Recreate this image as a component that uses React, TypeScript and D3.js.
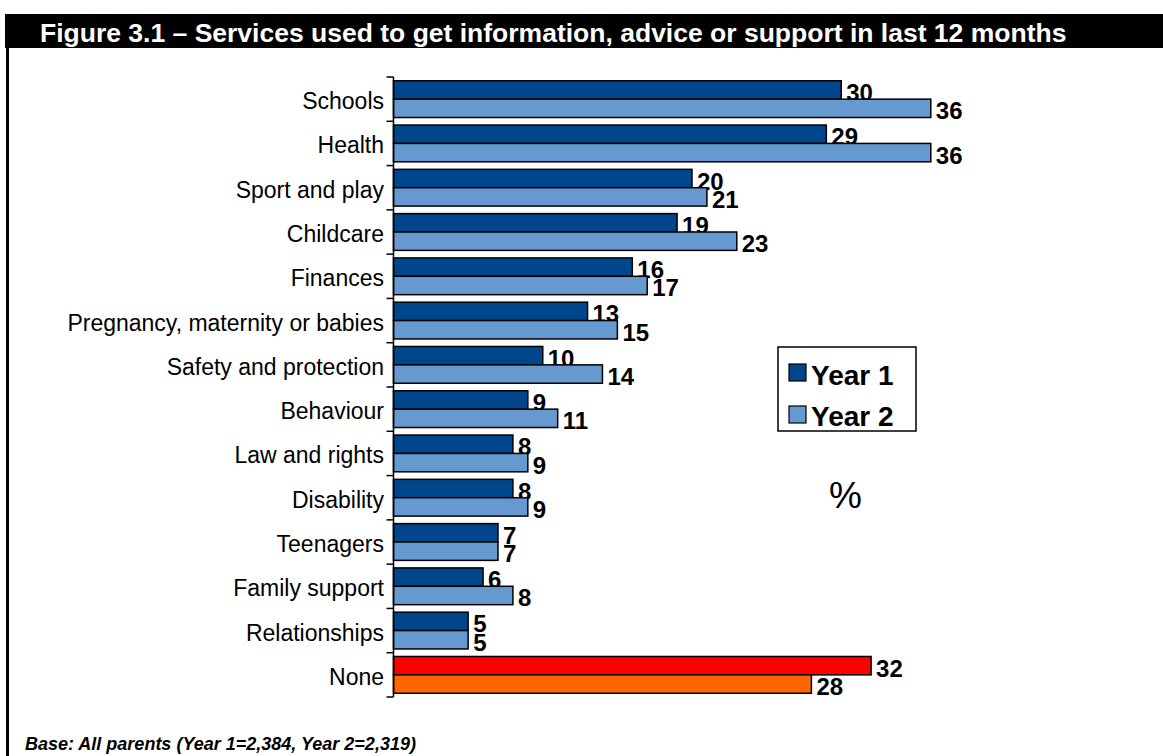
import React from "react";
import * as d3 from "d3";

const categories = [
  "Schools",
  "Health",
  "Sport and play",
  "Childcare",
  "Finances",
  "Pregnancy, maternity or babies",
  "Safety and protection",
  "Behaviour",
  "Law and rights",
  "Disability",
  "Teenagers",
  "Family support",
  "Relationships",
  "None",
];
const year1 = [30, 29, 20, 19, 16, 13, 10, 9, 8, 8, 7, 6, 5, 32];
const year2 = [36, 36, 21, 23, 17, 15, 14, 11, 9, 9, 7, 8, 5, 28];
const seriesNames = ["Year 1", "Year 2"];
const title = "Figure 3.1 \u2013 Services used to get information, advice or support in last 12 months";
const footnote = "Base: All parents (Year 1=2,384, Year 2=2,319)";

const W = 1163;
const H = 756;
const FONT = "Arial, 'Liberation Sans', Helvetica, sans-serif";

export default function App() {
  const x = d3.scaleLinear().domain([0, 40]).range([393.5, 990.5]);
  const y = d3.scaleBand<string>().domain(categories).range([77, 697]).paddingInner(0.17).paddingOuter(0.085);
  const sub = d3.scaleBand<string>().domain(["y1", "y2"]).range([0, y.bandwidth()]);
  const band = y.step();
  const colors = (i: number, s: number) => {
    const isNone = categories[i] === "None";
    if (s === 0) return isNone ? "#FF0000" : "#00468C";
    return isNone ? "#FF6600" : "#6699CF";
  };
  const ticks = d3.range(categories.length + 1).map((i) => 77 + i * band);

  return (
    <svg width={W} height={H} style={{ position: "absolute", left: 0, top: 0, background: "#fff" }} fontFamily={FONT}>
      <rect x={0} y={0} width={W} height={H} fill="#fff" />
      {/* Title bar */}
      <rect x={5} y={14} width={W - 5} height={34} fill="#000" />
      <text x={40} y={42} fill="#fff" fontSize={26.5} fontWeight="bold">{title}</text>
      {/* Left border */}
      <rect x={6} y={48} width={3} height={H - 48} fill="#000" />

      {/* Bars */}
      {categories.map((c, i) => {
        const y0 = y(c)!;
        return (
          <g key={c}>
            {[year1[i], year2[i]].map((v, s) => {
              const by = y0 + sub(s === 0 ? "y1" : "y2")!;
              return (
                <g key={s}>
                  <rect
                    x={x(0)}
                    y={by}
                    width={x(v) - x(0)}
                    height={sub.bandwidth()}
                    fill={colors(i, s)}
                    stroke="#000"
                    strokeWidth={1.5}
                  />
                  <text
                    x={x(v) + 5}
                    y={by + sub.bandwidth() / 2 + 2.5}
                    dominantBaseline="central"
                    fontSize={24}
                    fontWeight="bold"
                    fill="#000"
                  >
                    {v}
                  </text>
                </g>
              );
            })}
            <text
              x={384}
              y={77 + i * band + band / 2 + 2}
              textAnchor="end"
              dominantBaseline="central"
              fontSize={23}
              fill="#000"
            >
              {c}
            </text>
          </g>
        );
      })}

      {/* Axis */}
      <line x1={x(0)} x2={x(0)} y1={77} y2={697} stroke="#000" strokeWidth={1.5} />
      {ticks.map((t, i) => (
        <line key={i} x1={x(0) - 7} x2={x(0)} y1={t} y2={t} stroke="#000" strokeWidth={1.5} />
      ))}

      {/* Legend */}
      <rect x={778} y={347} width={138} height={84} fill="#fff" stroke="#000" strokeWidth={1.5} />
      {seriesNames.map((n, s) => (
        <g key={n}>
          <rect x={789} y={364 + s * 42} width={17} height={17} fill={colors(0, s)} stroke="#000" strokeWidth={1.2} />
          <text x={811} y={384.5 + s * 41} fontSize={28} fontWeight="bold" fill="#000">{n}</text>
        </g>
      ))}
      <text x={845.5} y={508} textAnchor="middle" fontSize={37} fill="#000">%</text>

      {/* Footnote */}
      <text x={25} y={750} fontSize={18} fontWeight="bold" fontStyle="italic" fill="#000">{footnote}</text>
    </svg>
  );
}
